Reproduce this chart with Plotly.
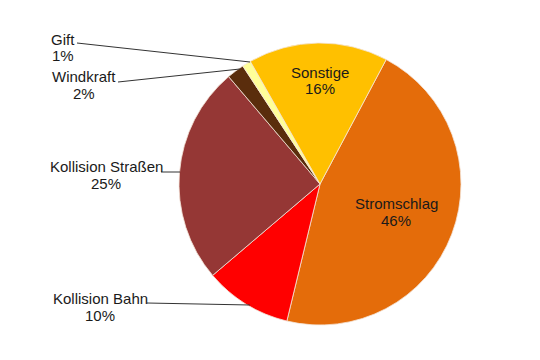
import plotly.graph_objects as go

categories = ["Stromschlag", "Kollision Bahn", "Kollision Straßen", "Windkraft", "Gift", "Sonstige"]
values = [46, 10, 25, 2, 1, 16]
colors = ["#E46C0A", "#FF0000", "#953735", "#5A2D0C", "#FFFF99", "#FFC000"]
pct_labels = [f"{v}%" for v in values]

W, H = 540, 360
OFF = 8  # page body margin offset


def px(x):
    return (x - OFF) / W


def py(y):
    return 1 - (y - OFF) / H


fig = go.Figure()
fig.add_trace(go.Pie(
    labels=categories, values=values, sort=False, direction="clockwise", rotation=28,
    marker=dict(colors=colors, line=dict(color="#F4E4D8", width=0.8)),
    textinfo="none", hoverinfo="label+percent", showlegend=False,
    domain=dict(x=[px(179), px(461)], y=[py(325), py(43)]),
))

FONT = dict(family="Liberation Sans, Arial, sans-serif", size=15, color="#1a1a1a")

label_pos = {
    "Gift": (63, 39, 56),
    "Windkraft": (84, 76, 93),
    "Kollision Straßen": (106, 166, 183),
    "Kollision Bahn": (100, 298, 315),
    "Sonstige": (320, 72, 89),
    "Stromschlag": (396, 203, 220),
}
for cat, pct in zip(categories, pct_labels):
    cx, y1, y2 = label_pos[cat]
    for txt, yy in ((cat, y1), (pct, y2)):
        fig.add_annotation(x=px(cx), y=py(yy), xref="paper", yref="paper", text=txt,
                           showarrow=False, font=FONT, xanchor="center", yanchor="middle")

leaders = [
    (77, 43, 250, 62),
    (118, 82, 240, 69),
    (161, 172, 180, 172),
    (147, 303, 250, 305),
]
for x0, y0, x1, y1 in leaders:
    fig.add_shape(type="line", xref="paper", yref="paper",
                  x0=px(x0), y0=py(y0), x1=px(x1), y1=py(y1),
                  line=dict(color="#333333", width=1))

fig.update_layout(width=W, height=H, margin=dict(l=0, r=0, t=0, b=0),
                  paper_bgcolor="white", plot_bgcolor="white")
fig.write_html("out.html")
